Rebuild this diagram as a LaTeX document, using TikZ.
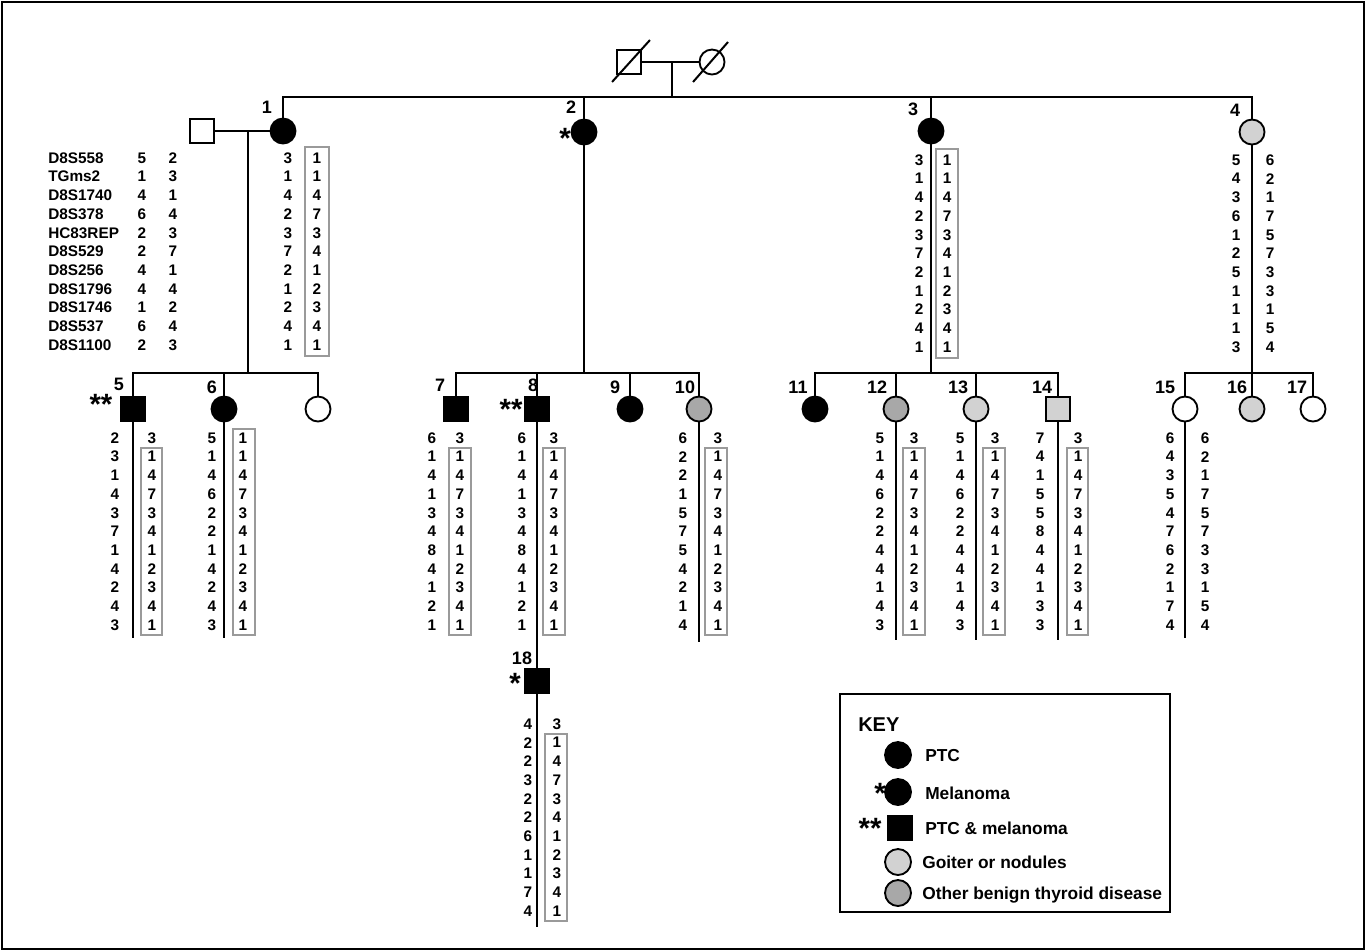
\documentclass[tikz,border=0pt]{standalone}
\usepackage{fontspec}
\setmainfont{Liberation Sans}
\usetikzlibrary{positioning}
\definecolor{goiter}{HTML}{D2D2D2}
\definecolor{benign}{HTML}{A8A8A8}
\definecolor{hapline}{HTML}{9A9A9A}
\tikzset{
  % --- persons
  fem/.style    = {circle, draw, line width=1.4pt, minimum size=18.75pt, inner sep=0pt},
  mal/.style    = {rectangle, draw, line width=1.4pt, minimum size=18pt, inner sep=0pt},
  % --- lines
  pedline/.style= {line width=1.5pt},
  hapbox/.style = {draw=hapline, line width=1.1pt},
  % --- texts
  al/.style     = {font=\fontsize{11.5}{12}\selectfont\bfseries, inner sep=0pt},
  mk/.style     = {al, anchor=west},
  idlbl/.style  = {font=\fontsize{13.5}{14}\selectfont\bfseries, inner sep=0pt},
  astk/.style   = {font=\fontsize{22}{22}\selectfont\bfseries, inner sep=0pt, anchor=base},
  keytxt/.style = {font=\fontsize{13}{14}\selectfont\bfseries, anchor=west, inner sep=0pt,
                   text height=9.3pt, text depth=0pt},
}
% one column of alleles: x, first row y, values
\newcommand{\hapcol}[3]{\foreach \v [count=\i from 0] in {#3} \node[al] at (#1,{#2+18.7*\i}) {\v};}

\begin{document}
\begin{tikzpicture}[x=0.75pt, y=-0.75pt]
  \useasboundingbox (0,0) rectangle (1366,951);
  \draw[line width=1pt] (2,2) rectangle (1364,949);

  % founders
  \node[mal] (f0) at (629,62) {};
  \node[fem] (m0) at (712,62) {};
  \draw[pedline] ([shift={(-4,7)}]f0.south west) -- ([shift={(8,-9)}]f0.north east);
  \draw[pedline] ([shift={(-19,20)}]m0.center) -- ([shift={(16,-20)}]m0.center);
  \draw[pedline] (f0) -- (m0);
  \coordinate (d0) at (672,62);
  \coordinate (s0) at (672,97);
  \draw[pedline] (d0) -- (s0);

  % generation I
  \node[fem, fill=black] (p1) at (283,131) {};
  \node[mal] (sp1) at (202,131) {};
  \node[fem, fill=black] (p2) at (584,132) {};
  \node[fem, fill=black] (p3) at (931,131) {};
  \node[fem, fill=goiter] (p4) at (1252,132) {};
  \draw[pedline] (p1.north) -- (p1.north |- s0) -- (p4.north |- s0) -- (p4.north);
  \draw[pedline] (p2.north |- s0) -- (p2.north);
  \draw[pedline] (p3.north |- s0) -- (p3.north);
  \draw[pedline] (sp1) -- (p1);
  \coordinate (d1) at (248,131);
  \coordinate (s1) at (248,373);
  \draw[pedline] (d1) -- (s1);
  \draw[pedline] (p2.south) -- (p2.south |- s1);
  \draw[pedline] (p3.south) -- (p3.south |- s1);
  \draw[pedline] (p4.south) -- (p4.south |- s1);

  \node[idlbl] at (267,107) {1};
  \node[idlbl] at (571,107) {2};
  \node[idlbl] at (913,109) {3};
  \node[idlbl] at (1235,110) {4};
  \node[astk] at (565,148) {*};

  % generation II
  \node[mal, fill=black] (p5) at (133,409) {};
  \node[fem, fill=black] (p6) at (224,409) {};
  \node[fem] (p6b) at (318,409) {};
  \node[mal, fill=black] (p7) at (456,409) {};
  \node[mal, fill=black] (p8) at (537,409) {};
  \node[fem, fill=black] (p9) at (630,409) {};
  \node[fem, fill=benign] (p10) at (699,409) {};
  \node[fem, fill=black] (p11) at (815,409) {};
  \node[fem, fill=benign] (p12) at (896,409) {};
  \node[fem, fill=goiter] (p13) at (976,409) {};
  \node[mal, fill=goiter] (p14) at (1058,409) {};
  \node[fem] (p15) at (1185,409) {};
  \node[fem, fill=goiter] (p16) at (1252,409) {};
  \node[fem] (p17) at (1313,409) {};

  \draw[pedline] (p5.north) -- (p5.north |- s1) -- (p6b.north |- s1) -- (p6b.north);
  \draw[pedline] (p6.north |- s1) -- (p6.north);
  \draw[pedline] (p7.north) -- (p7.north |- s1) -- (p10.north |- s1) -- (p10.north);
  \draw[pedline] (p8.north |- s1) -- (p8.north);
  \draw[pedline] (p9.north |- s1) -- (p9.north);
  \draw[pedline] (p11.north) -- (p11.north |- s1) -- (p14.north |- s1) -- (p14.north);
  \draw[pedline] (p12.north |- s1) -- (p12.north);
  \draw[pedline] (p13.north |- s1) -- (p13.north);
  \draw[pedline] (p15.north) -- (p15.north |- s1) -- (p17.north |- s1) -- (p17.north);
  \draw[pedline] (p16.north |- s1) -- (p16.north);

  \coordinate (t5) at (133,638);
  \coordinate (t6) at (224,638);
  \coordinate (t10) at (699,642);
  \coordinate (t12) at (896,640);
  \coordinate (t13) at (976,640);
  \coordinate (t14) at (1058,640);
  \coordinate (t15) at (1185,638);
  \draw[pedline] (p5.south) -- (t5);
  \draw[pedline] (p6.south) -- (t6);
  \draw[pedline] (p10.south) -- (t10);
  \draw[pedline] (p12.south) -- (t12);
  \draw[pedline] (p13.south) -- (t13);
  \draw[pedline] (p14.south) -- (t14);
  \draw[pedline] (p15.south) -- (t15);

  \node[idlbl] at (119,384) {5};
  \node[idlbl] at (212,387) {6};
  \node[idlbl] at (440,385) {7};
  \node[idlbl] at (533,385) {8};
  \node[idlbl] at (615,387) {9};
  \node[idlbl] at (685,387) {10};
  \node[idlbl] at (798,387) {11};
  \node[idlbl] at (877,387) {12};
  \node[idlbl] at (958,387) {13};
  \node[idlbl] at (1042,387) {14};
  \node[idlbl] at (1165,387) {15};
  \node[idlbl] at (1237,387) {16};
  \node[idlbl] at (1297,387) {17};
  \node[astk] at (101,414) {**};
  \node[astk] at (511,419) {**};

  % generation III
  \node[mal, fill=black] (p18) at (537,681) {};
  \coordinate (t18) at (537,927);
  \draw[pedline] (p8.south) -- (p18.north);
  \draw[pedline] (p18.south) -- (t18);
  \node[idlbl] at (522,658) {18};
  \node[astk] at (515,693) {*};

  % markers
  \node[mk] at (48,158) {D8S558};
  \node[mk] at (48,176.7) {TGms2};
  \node[mk] at (48,195.4) {D8S1740};
  \node[mk] at (48,214.1) {D8S378};
  \node[mk] at (48,232.8) {HC83REP};
  \node[mk] at (48,251.5) {D8S529};
  \node[mk] at (48,270.2) {D8S256};
  \node[mk] at (48,288.9) {D8S1796};
  \node[mk] at (48,307.6) {D8S1746};
  \node[mk] at (48,326.3) {D8S537};
  \node[mk] at (48,345) {D8S1100};
  \hapcol{142}{158}{5,1,4,6,2,2,4,4,1,6,2}
  \hapcol{173}{158}{2,3,1,4,3,7,1,4,2,4,3}

  % haplotypes, generation I
  \hapcol{288}{158}{3,1,4,2,3,7,2,1,2,4,1}
  \hapcol{317}{158}{1,1,4,7,3,4,1,2,3,4,1}
  \draw[hapbox] (305,147) rectangle (329,356);
  \hapcol{919}{160}{3,1,4,2,3,7,2,1,2,4,1}
  \hapcol{947}{160}{1,1,4,7,3,4,1,2,3,4,1}
  \draw[hapbox] (936,149) rectangle (958,358);
  \hapcol{1236}{160}{5,4,3,6,1,2,5,1,1,1,3}
  \hapcol{1270}{160}{6,2,1,7,5,7,3,3,1,5,4}

  % haplotypes, generation II
  \hapcol{115}{438}{2,3,1,4,3,7,1,4,2,4,3}
  \hapcol{152}{438}{3,1,4,7,3,4,1,2,3,4,1}
  \draw[hapbox] (141,448) rectangle (162,635);
  \hapcol{212}{438}{5,1,4,6,2,2,1,4,2,4,3}
  \hapcol{243}{438}{1,1,4,7,3,4,1,2,3,4,1}
  \draw[hapbox] (233,429) rectangle (255,635);
  \hapcol{432}{438}{6,1,4,1,3,4,8,4,1,2,1}
  \hapcol{460}{438}{3,1,4,7,3,4,1,2,3,4,1}
  \draw[hapbox] (449,448) rectangle (471,635);
  \hapcol{522}{438}{6,1,4,1,3,4,8,4,1,2,1}
  \hapcol{554}{438}{3,1,4,7,3,4,1,2,3,4,1}
  \draw[hapbox] (543,448) rectangle (565,635);
  \hapcol{683}{438}{6,2,2,1,5,7,5,4,2,1,4}
  \hapcol{718}{438}{3,1,4,7,3,4,1,2,3,4,1}
  \draw[hapbox] (705,448) rectangle (727,635);
  \hapcol{880}{438}{5,1,4,6,2,2,4,4,1,4,3}
  \hapcol{914}{438}{3,1,4,7,3,4,1,2,3,4,1}
  \draw[hapbox] (903,448) rectangle (925,635);
  \hapcol{960}{438}{5,1,4,6,2,2,4,4,1,4,3}
  \hapcol{995}{438}{3,1,4,7,3,4,1,2,3,4,1}
  \draw[hapbox] (983,448) rectangle (1005,635);
  \hapcol{1040}{438}{7,4,1,5,5,8,4,4,1,3,3}
  \hapcol{1078}{438}{3,1,4,7,3,4,1,2,3,4,1}
  \draw[hapbox] (1067,448) rectangle (1088,635);
  \hapcol{1170}{438}{6,4,3,5,4,7,6,2,1,7,4}
  \hapcol{1205}{438}{6,2,1,7,5,7,3,3,1,5,4}

  % haplotypes, generation III
  \hapcol{528}{724}{4,2,2,3,2,2,6,1,1,7,4}
  \hapcol{557}{724}{3,1,4,7,3,4,1,2,3,4,1}
  \draw[hapbox] (545,734) rectangle (567,921);

  % key
  \draw[line width=1.8pt] (840,694) rectangle (1170,912);
  \node[font=\fontsize{15}{16}\selectfont\bfseries, anchor=west, inner sep=0pt] (keyttl) at (858,725) {KEY};
  \node[fem, fill=black, minimum size=19.5pt] (k1) at (898,755) {};
  \node[fem, fill=black, minimum size=19.5pt] (k2) at (898,792) {};
  \node[mal, fill=black] (k3) at (900,828) {};
  \node[fem, fill=goiter, minimum size=19.5pt] (k4) at (898,862) {};
  \node[fem, fill=benign, minimum size=19.5pt] (k5) at (898,893) {};
  \node[astk] at (880,803) {*};
  \node[astk] at (870,838) {**};
  \node[keytxt] (k1t) at (925,755) {PTC};
  \node[keytxt] (k2t) at (925,793) {Melanoma};
  \node[keytxt] (k3t) at (925,828) {PTC \& melanoma};
  \node[keytxt] (k4t) at (922,862) {Goiter or nodules};
  \node[keytxt] (k5t) at (922,893) {Other benign thyroid disease};
\end{tikzpicture}
\end{document}
